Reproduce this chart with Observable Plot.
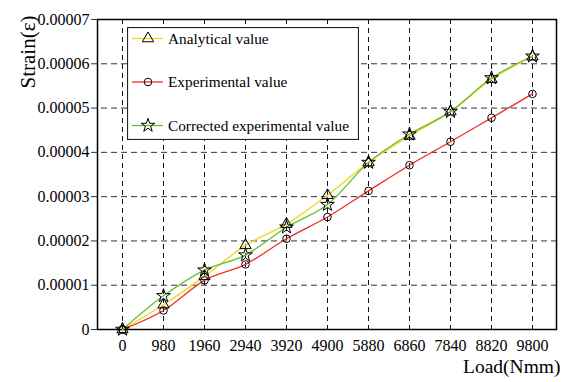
<!DOCTYPE html>
<html><head><meta charset="utf-8">
<script src="https://cdn.jsdelivr.net/npm/d3@7"></script>
<script src="https://cdn.jsdelivr.net/npm/@observablehq/plot@0.6"></script>
<style>
body{margin:0;background:#fff;}
#wrap{position:relative;width:572px;height:382px;font-family:"Liberation Serif","Times New Roman",serif;}
#legend{position:absolute;left:127px;top:27px;}
</style></head><body><div id="wrap"></div>
<script>
const loads = [0, 980, 1960, 2940, 3920, 4900, 5880, 6860, 7840, 8820, 9800];
const analytical   = [0, 0.0000056, 0.0000120, 0.0000190, 0.0000238, 0.0000303, 0.0000377, 0.0000437, 0.0000492, 0.0000565, 0.0000616];
const experimental = [0, 0.0000043, 0.0000111, 0.0000147, 0.0000205, 0.0000254, 0.0000313, 0.0000371, 0.0000424, 0.0000478, 0.0000532];
const corrected    = [0, 0.0000076, 0.0000134, 0.0000168, 0.0000231, 0.0000282, 0.0000377, 0.0000441, 0.0000492, 0.0000568, 0.0000617];
const yTicks = [0, 0.00001, 0.00002, 0.00003, 0.00004, 0.00005, 0.00006, 0.00007];
const yTickLabels = ["0", "0.00001", "0.00002", "0.00003", "0.00004", "0.00005", "0.00006", "0.00007"];
const seriesNames = ["Analytical value", "Experimental value", "Corrected experimental value"];
const seriesColors = ["#ead81c", "#ee2c28", "#68bd2c"];
const seriesSymbols = ["triangle", "circle", "star"];
const seriesR = [4.2, 3.8, 4.3];
const xLabel = "Load(Nmm)";
const yLabel = "Strain(ε)";

const seriesValues = [analytical, experimental, corrected];
const rows = [];
seriesNames.forEach((name, s) => {
  loads.forEach((l, i) => rows.push({load: String(l), series: name, value: seriesValues[s][i]}));
});
const font = `"Liberation Serif","Times New Roman",serif`;

const chart = Plot.plot({
  width: 572, height: 382,
  marginLeft: 97, marginRight: 16, marginTop: 19, marginBottom: 53,
  style: {fontFamily: font, fontSize: "16px", background: "white", color: "black"},
  x: {type: "point", domain: loads.map(String), padding: 0.5},
  y: {domain: [0, 0.00007]},
  color: {domain: seriesNames, range: seriesColors},
  marks: [
    Plot.ruleY(yTicks, {y: d => d, stroke: "#333", strokeDasharray: "6,4", insetLeft: -6, insetRight: -2}),
    Plot.ruleX(loads.map(String), {x: d => d, stroke: "#111", strokeDasharray: "5,4", insetBottom: -4}),
    Plot.frame({stroke: "black", strokeWidth: 1.5}),
    Plot.axisX({tickSize: 0, tickPadding: 10, label: null, fontSize: 16}),
    Plot.axisY({ticks: yTicks, tickFormat: d => yTickLabels[yTicks.indexOf(d)], tickSize: 0, tickPadding: 8, label: null, fontSize: 16}),
    Plot.line(rows, {x: "load", y: "value", z: "series", stroke: "series", curve: "monotone-x", strokeWidth: 1.3}),
    ...seriesNames.map((name, s) => Plot.dot(rows.filter(d => d.series === name), {
      x: "load", y: "value", symbol: seriesSymbols[s], r: seriesR[s], stroke: "black", fill: "none", strokeWidth: 1
    })),
    Plot.text([yLabel], {text: d => d, frameAnchor: "top-left", rotate: -90, textAnchor: "end", dx: -77, dy: -4, fontSize: 21}),
    Plot.text([xLabel], {text: d => d, frameAnchor: "bottom-right", textAnchor: "end", dx: 4, dy: 43, fontSize: 19.5})
  ]
});
const wrap = document.getElementById("wrap");
wrap.appendChild(chart);

// legend
const lw = 232, lh = 113;
const leg = d3.select(wrap).append("div").attr("id", "legend")
  .append("svg").attr("width", lw).attr("height", lh).style("display", "block");
leg.append("rect").attr("x", 0.5).attr("y", 0.5).attr("width", lw - 1).attr("height", lh - 1)
  .attr("fill", "white").attr("stroke", "#222").attr("stroke-width", 1.2);
const symMap = {triangle: d3.symbolTriangle, circle: d3.symbolCircle, star: d3.symbolStar};
seriesNames.forEach((name, s) => {
  const cy = 11.5 + s * 43.5;
  leg.append("line").attr("x1", 5).attr("x2", 36).attr("y1", cy).attr("y2", cy)
    .attr("stroke", seriesColors[s]).attr("stroke-width", 1.3);
  leg.append("path").attr("d", d3.symbol(symMap[seriesSymbols[s]], Math.PI * seriesR[s] * seriesR[s])())
    .attr("transform", `translate(21,${cy})`).attr("fill", "none").attr("stroke", "black");
  leg.append("text").attr("x", 41).attr("y", cy).attr("dy", "0.35em")
    .attr("font-family", font).attr("font-size", 15.3).text(name);
});
</script></body></html>
